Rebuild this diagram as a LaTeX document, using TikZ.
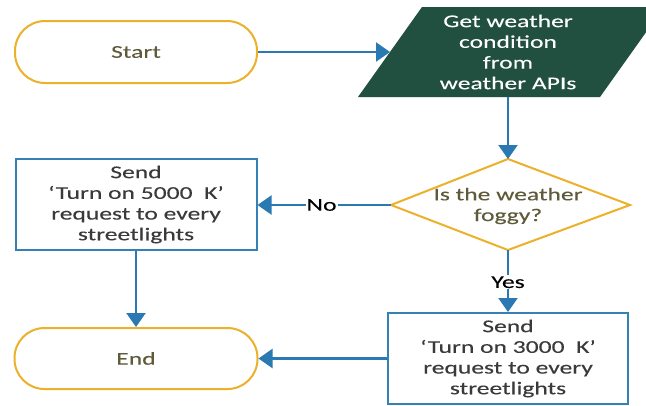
\documentclass[tikz,border=0pt]{standalone}
\usepackage{fontspec}
\setmainfont{Carlito}[FakeStretch=1.42, FakeBold=0.12]
\usetikzlibrary{arrows.meta}
\definecolor{gold}{HTML}{EBB12A}
\definecolor{flowblue}{HTML}{2B79B3}
\definecolor{boxblue}{HTML}{3581B5}
\definecolor{darkgreen}{HTML}{214F40}
\definecolor{olive}{HTML}{5E5A3A}
\definecolor{boxtext}{HTML}{3A3A3A}
\begin{document}
\begin{tikzpicture}[x=1pt,y=-1pt,
  every node/.style={font=\fontsize{18}{20.7}\selectfont, align=center, inner sep=0pt},
  terminal/.style={draw=gold, line width=2pt, fill=white, rounded corners=30pt, text=olive},
  procbox/.style={draw=boxblue, line width=2pt, fill=white, text=boxtext},
  flow/.style={draw=flowblue, line width=2.2pt, -{Triangle[length=14pt,width=19pt]}},
  lbl/.style={fill=white, text=black, inner sep=1pt}]
\useasboundingbox (0,0) rectangle (646,405);
\fill[white] (0,0) rectangle (646,405);

% Start
\node[terminal, minimum width=242pt, minimum height=62pt] (start) at (136,52) {Start};

% Input parallelogram
\coordinate (p1) at (422,7);
\coordinate (p2) at (664,7);
\coordinate (p3) at (600,97);
\coordinate (p4) at (358,97);
\fill[darkgreen] (p1) -- (p2) -- (p3) -- (p4) -- cycle;
\node[text=white] (get) at (508,52) {Get weather\\condition\\from\\weather APIs};
\coordinate (getin) at (390,52);
\coordinate (getout) at (508,97);

% Decision diamond
\coordinate (dt) at (508,159);
\coordinate (dr) at (630,205);
\coordinate (db) at (508,250);
\coordinate (dl) at (391,205);
\draw[gold, line width=2pt, fill=white] (dt) -- (dr) -- (db) -- (dl) -- cycle;
\node[text=olive] (dec) at (508,206) {Is the weather\\foggy?};

% Left box
\node[procbox, minimum width=241pt, minimum height=91pt] (box5) at (136,204.5) {Send\\‘Turn on 5000~~K’\\request to every\\streetlights};

% Right box
\node[procbox, minimum width=240pt, minimum height=91pt] (box3) at (508,358.5) {Send\\‘Turn on 3000~~K’\\request to every\\streetlights};

% End
\node[terminal, minimum width=243pt, minimum height=61pt] (end) at (136,358.5) {End};

% Connectors
\draw[flow] (start.east) -- (getin);
\draw[flow] (getout) -- (dt);
\draw[flow] (dl) -- node[lbl, pos=0.52] (no) {No} (box5.east |- dl);
\draw[flow] (db) -- node[lbl, pos=0.52] (yes) {Yes} (box3.north);
\draw[flow] (box5.south) -- (end.north);
\draw[flow] (box3.west) -- (end.east);
\end{tikzpicture}
\end{document}
